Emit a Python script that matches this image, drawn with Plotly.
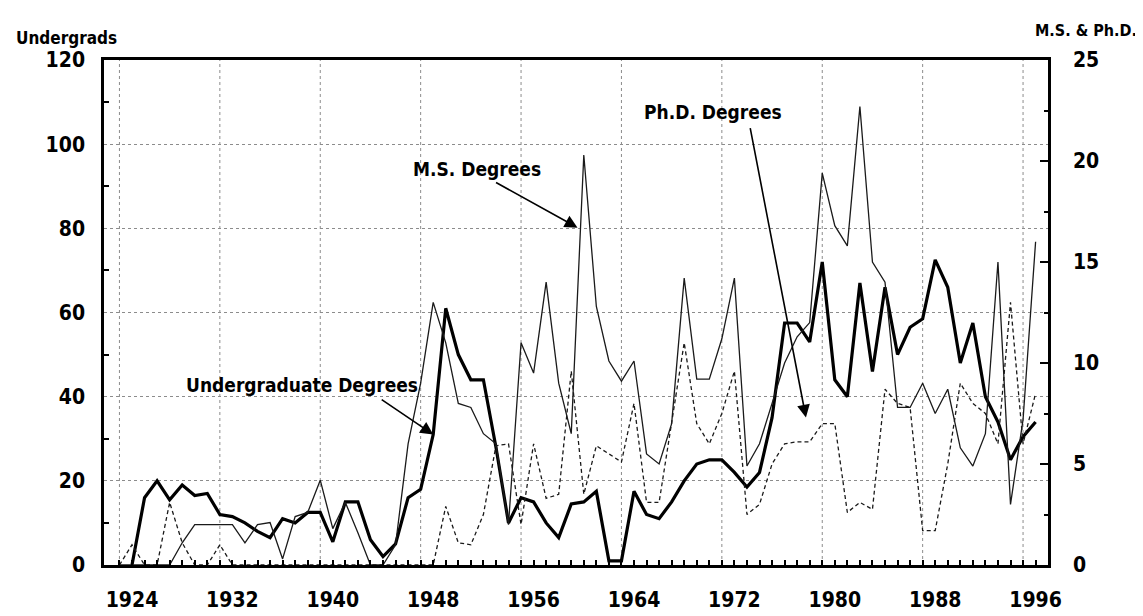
import plotly.graph_objects as go

# ---------------- data ----------------
years = list(range(1923, 1997))

undergrad = [None, 0, 16, 20, 15.5, 19, 16.5, 17, 12, 11.5,          # 1923-1932
             10, 8, 6.5, 11, 10, 12.5, 12.5, 5.5, 15, 15,             # 1933-1942
             6, 2, 5, 16, 18, 31, 61, 50, 44, 44,                     # 1943-1952
             28, 10, 16, 15, 10, 6.5, 14.5, 15, 17.5, 1,              # 1953-1962
             1, 17.5, 12, 11, 15, 20, 24, 25, 25, 22,                 # 1963-1972
             18.5, 22, 35, 57.5, 57.5, 53, 72, 44, 40, 67,            # 1973-1982
             46, 66, 50, 56.5, 58.5, 72.5, 66, 48, 57.5, 40,          # 1983-1992
             34, 25, 30.5, 34]                                        # 1993-1996

ms_degrees = [0, 0, 0, 0, 0, 1.1, 2, 2, 2, 2,                        # 1923-1932
              1.1, 2, 2.1, 0.3, 2.4, 2.6, 4.2, 1.8, 3.1, 1.6,         # 1933-1942
              0, 0, 1, 6, 9, 13, 11, 8, 7.8, 6.5,                     # 1943-1952
              6, 2, 11, 9.5, 14, 9, 6.5, 20.3, 12.8, 10.1,            # 1953-1962
              9.1, 10.1, 5.5, 5, 7, 14.2, 9.2, 9.2, 11.2, 14.2,       # 1963-1972
              4.9, 6, 8, 10, 11.3, 12, 19.4, 16.8, 15.8, 22.7,        # 1973-1982
              15, 14, 7.8, 7.8, 9, 7.5, 8.7, 5.8, 4.9, 6.5,           # 1983-1992
              15, 3, 7.2, 16]                                         # 1993-1996

phd_degrees = [0, 1, 0, 0, 3.1, 1.1, 0, 0, 1, 0,                     # 1923-1932
               0, 0, 0, 0, 0, 0, 0, 0, 0, 0,                          # 1933-1942
               0, 0, 0, 0, 0, 0, 2.9, 1.1, 1, 2.5,                    # 1943-1952
               5.9, 6, 2, 6, 3.3, 3.5, 9.6, 3.5, 5.9, 5.5,            # 1953-1962
               5.1, 8, 3.1, 3.1, 7, 11, 7, 6, 7.5, 9.6,               # 1963-1972
               2.5, 3, 5, 6, 6.1, 6.1, 7, 7, 2.6, 3.1,                # 1973-1982
               2.75, 8.7, 8, 7.8, 1.7, 1.7, 5, 9, 8, 7.5,             # 1983-1992
               6, 13, 6, 8.5]                                         # 1993-1996

year_ticks = [1924, 1932, 1940, 1948, 1956, 1964, 1972, 1980, 1988, 1996]
left_ticks = [0, 20, 40, 60, 80, 100, 120]
right_ticks = [0, 5, 10, 15, 20, 25]

# ---------------- figure ----------------
FONT = "DejaVu Sans Condensed, Liberation Sans Narrow, Arial Narrow, Liberation Sans, sans-serif"
GRID = "#8c8c8c"

fig = go.Figure()
fig.add_trace(go.Scatter(x=years, y=undergrad, mode="lines", name="Undergraduate Degrees",
                         line=dict(color="black", width=3.2), yaxis="y"))
fig.add_trace(go.Scatter(x=years, y=ms_degrees, mode="lines", name="M.S. Degrees",
                         line=dict(color="#1a1a1a", width=1.3), yaxis="y2"))
fig.add_trace(go.Scatter(x=years, y=phd_degrees, mode="lines", name="Ph.D. Degrees",
                         line=dict(color="#1a1a1a", width=1.3, dash="4px,3px"), yaxis="y2"))

# vertical dotted grid lines (one category before each labelled year)
shapes = []
for yr in year_ticks:
    shapes.append(dict(type="line", xref="x", yref="paper", x0=yr - 1, x1=yr - 1, y0=0, y1=1,
                       line=dict(color=GRID, width=1, dash="dot"), layer="below"))

L, R, T, B = 96, 103, 52, 50
W, H = 1143, 616
PW, PH = W - L - R, H - T - B


def px(xp):
    return (xp - L) / PW


def py(yp):
    return (H - B - yp) / PH


def bold(s):
    return "<b>%s</b>" % s


def label(text, xp, yp, size, xanchor="center"):
    return dict(text=bold(text), x=px(xp), y=py(yp), xref="paper", yref="paper",
                xanchor=xanchor, yanchor="middle", showarrow=False,
                font=dict(family=FONT, size=size, color="black"))


def arrow(x, y, yref, ax, ay):
    return dict(text="", x=x, y=y, xref="x", yref=yref, ax=ax, ay=ay,
                showarrow=True, arrowhead=2, arrowsize=1.6, arrowwidth=1.6,
                arrowcolor="black", standoff=0)


annotations = [
    label("Undergrads", 58, 30, 17),
    label("M.S. &amp; Ph.D.", 1078, 22, 16),
    label("Undergraduate Degrees", 294, 383, 19),
    label("M.S. Degrees", 469, 163, 19),
    label("Ph.D. Degrees", 705, 105, 19),
    arrow(1948, undergrad[years.index(1948)], "y", -53, -36),
    arrow(1959.5, 16.7, "y2", -83, -46),
    arrow(1977.7, 7.3, "y2", -56, -291),
]

tickfont = dict(family=FONT, size=21, color="black")

fig.update_layout(
    width=W, height=H,
    margin=dict(l=L, r=R, t=T, b=B, pad=0),
    paper_bgcolor="white", plot_bgcolor="white",
    showlegend=False,
    shapes=shapes,
    annotations=annotations,
    xaxis=dict(range=[1924 + (L - 124) / 12.55, 1924 + (W - R - 124) / 12.55],
               tickvals=year_ticks, ticktext=[bold(str(v)) for v in year_ticks],
               ticks="", showgrid=False, zeroline=False,
               showline=True, linecolor="black", linewidth=2.5, mirror=True,
               tickfont=tickfont, ticklabelstandoff=14,
               minor=dict(tickvals=years, ticks="inside", ticklen=5, tickwidth=1.5,
                          tickcolor="black", showgrid=False)),
    yaxis=dict(range=[0, 120], tickvals=left_ticks, ticktext=[bold(str(v)) for v in left_ticks],
               ticks="", showgrid=True, gridcolor=GRID, griddash="dot", gridwidth=1,
               zeroline=False, showline=True, linecolor="black", linewidth=2.5,
               tickfont=tickfont, ticklabelstandoff=12,
               minor=dict(tickvals=[10, 30, 50, 70, 90, 110], ticks="inside", ticklen=5,
                          tickwidth=1.5, tickcolor="black", showgrid=False)),
    yaxis2=dict(range=[0, 25], overlaying="y", side="right",
                tickvals=right_ticks, ticktext=[bold(str(v)) for v in right_ticks],
                ticks="inside", ticklen=8, tickwidth=1.5, tickcolor="black",
                showgrid=False, zeroline=False, showline=True, linecolor="black", linewidth=2.5,
                tickfont=tickfont, ticklabelstandoff=18,
                minor=dict(tickvals=[2.5, 7.5, 12.5, 17.5, 22.5], ticks="inside", ticklen=4,
                           tickwidth=1.5, tickcolor="black", showgrid=False)),
)

fig.write_html("out.html")
